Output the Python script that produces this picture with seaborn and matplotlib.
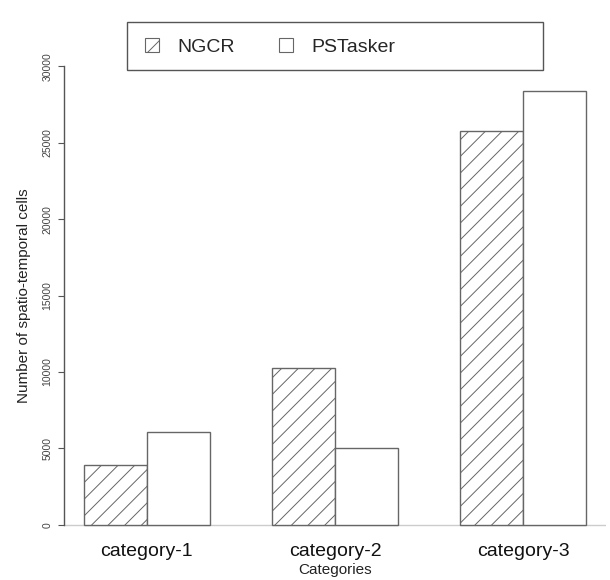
import matplotlib
matplotlib.use("Agg")
import matplotlib.pyplot as plt
import seaborn as sns
import pandas as pd
from matplotlib.patches import Patch, Rectangle

categories = ["category-1", "category-2", "category-3"]
methods = ["NGCR", "PSTasker"]
ngcr = [3920, 10260, 25750]
pstasker = [6040, 5030, 28390]
yticks = [0, 5000, 10000, 15000, 20000, 25000, 30000]

df = pd.DataFrame({
    "Category": categories * 2,
    "Method": [methods[0]] * 3 + [methods[1]] * 3,
    "Value": ngcr + pstasker,
})

sns.set_theme(style="white")
plt.rcParams['font.family'] = ['Liberation Sans', 'DejaVu Sans']
plt.rcParams['hatch.color'] = '#555555'
plt.rcParams['hatch.linewidth'] = 0.7

W, H = 610, 580
fig = plt.figure(figsize=(W / 100, H / 100), dpi=100)
ax = fig.add_axes([64 / W, 1 - 543 / H, (606 - 64) / W, (543 - 48) / H])

sns.barplot(data=df, x="Category", y="Value", hue="Method", order=categories,
            hue_order=methods, width=2 / 3, gap=0, ax=ax,
            palette=["white", "white"], edgecolor="#666666", linewidth=1.0,
            legend=False, saturation=1)

n = len(categories)
for i, p in enumerate(ax.patches[:2 * n]):
    if i < n:
        p.set_hatch('//')

ax.set_xlim(-1 / 3 - 0.32 / 3, (n - 1) + 1 / 3 + 0.32 / 3)
ax.set_ylim(-1200, 31200)
ax.axhline(0, color="#cccccc", lw=1.0, zorder=0.5)

for s in ["top", "right", "bottom"]:
    ax.spines[s].set_visible(False)
ax.spines["left"].set_bounds(0, 30000)
ax.spines["left"].set_color("#555555")
ax.spines["left"].set_linewidth(1.0)

ax.set_yticks(yticks)
ax.set_yticklabels([str(v) for v in yticks], rotation=90, va="center",
                   fontsize=7.5, color="#444444")
ax.tick_params(axis="y", left=True, length=4.3, width=0.8, color="#555555", pad=4)
ax.tick_params(axis="x", bottom=False, length=0, labelsize=14, pad=0, colors="#111111")

ax.set_xlabel("Categories", fontsize=11, color="#222222", labelpad=2)
ax.set_ylabel("Number of spatio-temporal cells", fontsize=11, color="#222222", labelpad=8)

# legend frame
fig.patches.append(Rectangle((127 / W, 1 - 70 / H), (543 - 127) / W, 48 / H,
                             transform=fig.transFigure, facecolor="white",
                             edgecolor="#555555", linewidth=1.0, zorder=5))
handles = [Patch(facecolor="white", edgecolor="#666666", hatch="/", linewidth=0.8),
           Patch(facecolor="white", edgecolor="#666666", linewidth=0.8)]
leg = fig.legend(handles, methods, loc="center left", ncol=2,
                 bbox_to_anchor=(145 / W, 1 - 47 / H),
                 fontsize=14, frameon=False,
                 handlelength=0.7, handleheight=0.7,
                 handletextpad=0.95, columnspacing=2.3, borderpad=0,
                 borderaxespad=0)
leg.set_zorder(6)

fig.savefig("out.png", dpi=100)
